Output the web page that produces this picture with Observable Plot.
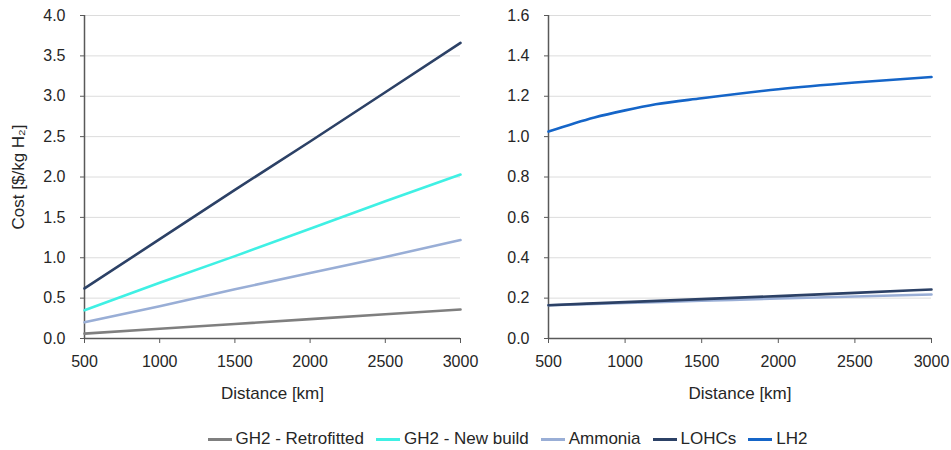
<!DOCTYPE html>
<html>
<head>
<meta charset="utf-8">
<script src="https://cdn.jsdelivr.net/npm/d3@7"></script>
<script src="https://cdn.jsdelivr.net/npm/@observablehq/plot@0.6"></script>
<style>
  body { margin: 0; background: #fff; font-family: "Liberation Sans", Arial, sans-serif; }
  #charts { display: flex; width: 951px; }
  #legend { display: flex; justify-content: center; gap: 12px; width: 951px; box-sizing: border-box; padding-left: 64px; margin-top: 19px; font-size: 17px; color: #262626; }
  .item { display: flex; align-items: center; gap: 4px; }
  .sw { width: 24px; height: 3px; }
</style>
</head>
<body>
<div id="charts"></div>
<div id="legend"></div>
<script>
const seriesNames = ["GH2 - Retrofitted", "GH2 - New build", "Ammonia", "LOHCs", "LH2"];
const seriesColors = ["#7f7f7f", "#3ff0e4", "#99aed6", "#2c4166", "#1565c8"];

const distances = [500, 1000, 1500, 2000, 2500, 3000];
const leftRetrofitted = [0.06, 0.12, 0.18, 0.24, 0.30, 0.36];
const leftNewBuild = [0.35, 0.69, 1.02, 1.36, 1.70, 2.03];
const leftAmmonia = [0.20, 0.40, 0.61, 0.81, 1.01, 1.22];
const leftLOHCs = [0.62, 1.23, 1.84, 2.44, 3.05, 3.66];

const lh2Distances = [500, 800, 1000, 1200, 1500, 2000, 2500, 3000];
const rightLH2 = [1.025, 1.095, 1.13, 1.16, 1.19, 1.235, 1.268, 1.295];
const rightAmmonia = [0.165, 0.176, 0.187, 0.198, 0.208, 0.218];
const rightLOHCs = [0.165, 0.18, 0.195, 0.21, 0.226, 0.243];

const xTicks = [500, 1000, 1500, 2000, 2500, 3000];
const leftYTicks = [0, 0.5, 1, 1.5, 2, 2.5, 3, 3.5, 4];
const rightYTicks = [0, 0.2, 0.4, 0.6, 0.8, 1.0, 1.2, 1.4, 1.6];

const toRows = (name, xs, ys) => ys.map((v, i) => ({ name, d: xs[i], v }));

const leftData = [
  ...toRows("GH2 - Retrofitted", distances, leftRetrofitted),
  ...toRows("GH2 - New build", distances, leftNewBuild),
  ...toRows("Ammonia", distances, leftAmmonia),
  ...toRows("LOHCs", distances, leftLOHCs)
];
const rightData = [
  ...toRows("Ammonia", distances, rightAmmonia),
  ...toRows("LOHCs", distances, rightLOHCs),
  ...toRows("LH2", lh2Distances, rightLH2)
];

function panel(data, yMax, yTicks, width, ml, yLabel, curve) {
  const marks = [
    Plot.ruleY(yTicks.slice(1), { stroke: "#dcdcdc", strokeWidth: 1, strokeOpacity: 1 }),
    Plot.axisY({ ticks: yTicks, tickFormat: d => d.toFixed(1), tickSize: 4, tickPadding: 15, stroke: "#595959", fontSize: 16, label: null }),
    Plot.axisX({ ticks: xTicks, tickFormat: d => String(d), tickSize: 5, tickPadding: 12, stroke: "#595959", fontSize: 16, label: null }),
    Plot.axisX({ ticks: [], label: "Distance [km]", labelAnchor: "center", labelArrow: "none", labelOffset: 60, fontSize: 17 }),
    Plot.ruleX([500], { stroke: "#595959", strokeWidth: 1.5 }),
    Plot.ruleY([0], { stroke: "#595959", strokeWidth: 1.5 }),
    Plot.line(data, { x: "d", y: "v", z: "name", stroke: "name", strokeWidth: 2.6, curve })
  ];
  if (yLabel) marks.push(Plot.axisY({ ticks: [], label: yLabel, labelAnchor: "center", labelArrow: "none", labelOffset: 73, fontSize: 17 }));
  return Plot.plot({
    width, height: 410,
    marginLeft: ml, marginRight: 20, marginTop: 15, marginBottom: 72,
    style: { fontFamily: "Liberation Sans, Arial, sans-serif", fontSize: "16px", color: "#262626", background: "#fff" },
    x: { domain: [500, 3000] },
    y: { domain: [0, yMax] },
    color: { domain: seriesNames, range: seriesColors },
    marks
  });
}

const charts = document.getElementById("charts");
charts.appendChild(panel(leftData, 4, leftYTicks, 480, 84, "Cost [$/kg H₂]", "linear"));
charts.appendChild(panel(rightData, 1.6, rightYTicks, 471, 68, null, "monotone-x"));

const legend = document.getElementById("legend");
seriesNames.forEach((n, i) => {
  const it = document.createElement("div");
  it.className = "item";
  const sw = document.createElement("span");
  sw.className = "sw";
  sw.style.background = seriesColors[i];
  const t = document.createElement("span");
  t.textContent = n;
  it.appendChild(sw); it.appendChild(t);
  legend.appendChild(it);
});
</script>
</body>
</html>
